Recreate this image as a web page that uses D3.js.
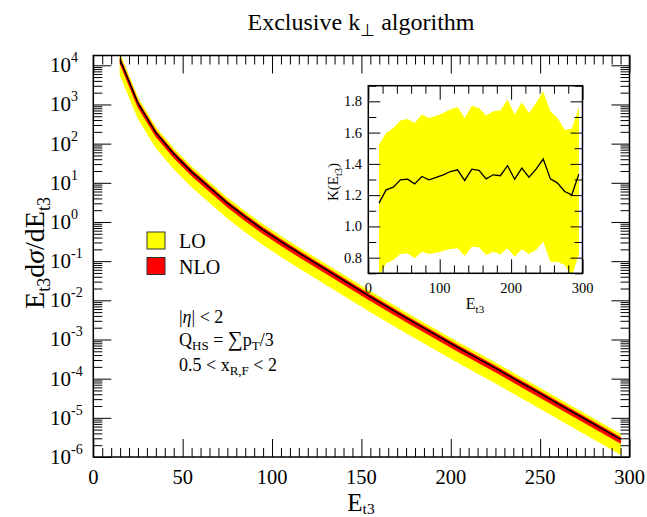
<!DOCTYPE html>
<html><head><meta charset="utf-8">
<script src="https://cdn.jsdelivr.net/npm/d3@7"></script>
<style>
body{margin:0;background:#fff}
svg{display:block}
svg text{font-family:"Liberation Serif","Times New Roman",Times,serif;fill:#000}
</style>
</head><body>
<svg id="c" width="647" height="517" font-family="Liberation Serif, Times New Roman, Times, serif"></svg>
<script>
// ---------- data ----------
const energies = [15,25,35,45,55,65,75,85,95,105,115,125,135,145,155,165,175,185,195,205,215,225,235,245,255,265,275,285,295];
const nloCentral = [13800,1072,190.5,54.95,19.05,7.586,3.020,1.349,0.631,0.316,0.162,0.0851,0.0447,0.0234,0.0123,0.00661,0.00355,0.00195,0.00107,0.000589,0.000331,0.000186,0.000102,5.62e-5,3.09e-5,1.70e-5,9.33e-6,5.13e-6,2.82e-6];
const nloHigh = [15500,1203,213.7,61.7,21.4,8.51,3.39,1.51,0.708,0.355,0.182,0.0955,0.0502,0.0263,0.0138,0.00742,0.00398,0.00219,0.00120,0.000661,0.000371,0.000209,0.000114,6.31e-5,3.47e-5,1.91e-5,1.05e-5,5.76e-6,3.16e-6];
const nloLow = [10960,851,151.3,43.6,15.1,6.03,2.40,1.07,0.501,0.251,0.129,0.0676,0.0355,0.0186,0.00977,0.00525,0.00282,0.00155,0.000850,0.000468,0.000263,0.000148,8.10e-5,4.46e-5,2.45e-5,1.35e-5,7.41e-6,4.07e-6,2.24e-6];
const loHigh = [18600,1446,257,74.1,25.7,10.2,4.07,1.82,0.851,0.426,0.219,0.115,0.0603,0.0316,0.0166,0.00892,0.00479,0.00263,0.00144,0.000795,0.000447,0.000251,0.000138,7.58e-5,4.17e-5,2.29e-5,1.26e-5,6.92e-6,3.80e-6];
const loLow = [5760,447,79.4,22.9,7.94,3.16,1.26,0.562,0.263,0.132,0.0676,0.0355,0.0186,0.00976,0.00513,0.00276,0.00148,0.000813,0.000446,0.000246,0.000138,7.76e-5,4.25e-5,2.34e-5,1.29e-5,7.09e-6,3.89e-6,2.14e-6,1.18e-6];

const kFactor = [1.149,1.234,1.251,1.298,1.302,1.272,1.319,1.298,1.313,1.330,1.351,1.362,1.294,1.366,1.358,1.304,1.330,1.324,1.388,1.302,1.373,1.315,1.366,1.431,1.304,1.277,1.223,1.202,1.336];
const kHigh = [1.522,1.597,1.629,1.678,1.687,1.661,1.715,1.694,1.708,1.725,1.747,1.764,1.694,1.772,1.758,1.710,1.736,1.742,1.811,1.715,1.794,1.725,1.790,1.864,1.736,1.694,1.618,1.623,1.764];
const kLow = [0.68,0.764,0.785,0.824,0.828,0.796,0.838,0.824,0.832,0.845,0.856,0.860,0.811,0.871,0.867,0.817,0.838,0.822,0.860,0.806,0.854,0.824,0.849,0.903,0.774,0.774,0.753,0.68,0.824];

const xMajorTicks = [0,50,100,150,200,250,300];
const yDecades = [-6,-5,-4,-3,-2,-1,0,1,2,3,4];
const insetXMajor = [0,100,200,300];
const insetYMajor = [0.8,1.0,1.2,1.4,1.6,1.8];
const legendItems = [{label:"LO", color:"#ffff00"},{label:"NLO", color:"#ff0000"}];

// ---------- layout ----------
const svg = d3.select("#c");
const M = {l:93.3, r:629.5, t:55.5, b:457};
const x = d3.scaleLinear([0,300],[M.l,M.r]);
const y = d3.scaleLog([1e-6, Math.pow(10,4.25)],[M.b,M.t]);

const defs = svg.append("defs");
defs.append("clipPath").attr("id","mainClip").append("rect")
  .attr("x",M.l).attr("y",M.t).attr("width",M.r-M.l).attr("height",M.b-M.t);

const rows = energies.map((e,i)=>({e, c:nloCentral[i], nh:nloHigh[i], nl:nloLow[i], lh:loHigh[i], ll:loLow[i]}));
const plot = svg.append("g").attr("clip-path","url(#mainClip)");
plot.append("path").datum(rows)
  .attr("d", d3.area().x(d=>x(d.e)).y0(d=>y(d.ll)).y1(d=>y(d.lh)))
  .attr("fill","#ffff00").attr("stroke","#ffff00").attr("stroke-width",1);
plot.append("path").datum(rows)
  .attr("d", d3.area().x(d=>x(d.e)).y0(d=>y(d.nl)).y1(d=>y(d.nh)))
  .attr("fill","#ff0000").attr("stroke","#ff0000").attr("stroke-width",0.8);
plot.append("path").datum(rows)
  .attr("d", d3.line().x(d=>x(d.e)).y(d=>y(d.c)))
  .attr("fill","none").attr("stroke","#000").attr("stroke-width",1.5);

// ---------- axes (ticks inward, all four sides) ----------
function tickAxis(axisFn, scale, values, size, tx, ty){
  const g = svg.append("g").attr("transform",`translate(${tx},${ty})`)
    .call(axisFn(scale).tickValues(values).tickSize(size).tickFormat(""));
  g.select(".domain").remove();
  g.selectAll("line").attr("stroke","#000").attr("stroke-width",1);
  return g;
}
const xMinor = d3.range(0,301,5).filter(v=>v%50!==0);
const yMajorVals = yDecades.map(d=>Math.pow(10,d));
const yMinorVals = [];
yDecades.forEach(d=>{ for(let m=2;m<=9;m++){ const v=m*Math.pow(10,d); if(v<=y.domain()[1]) yMinorVals.push(v);} });

tickAxis(d3.axisBottom, x, xMajorTicks, -18, 0, M.b);
tickAxis(d3.axisBottom, x, xMinor, -9, 0, M.b);
tickAxis(d3.axisTop, x, xMajorTicks, -18, 0, M.t);
tickAxis(d3.axisTop, x, xMinor, -9, 0, M.t);
tickAxis(d3.axisLeft, y, yMajorVals, -18, M.l, 0);
tickAxis(d3.axisLeft, y, yMinorVals, -9, M.l, 0);
tickAxis(d3.axisRight, y, yMajorVals, -18, M.r, 0);
tickAxis(d3.axisRight, y, yMinorVals, -9, M.r, 0);

svg.append("rect").attr("x",M.l).attr("y",M.t).attr("width",M.r-M.l).attr("height",M.b-M.t)
  .attr("fill","none").attr("stroke","#000").attr("stroke-width",1.5);

// tick labels
svg.append("g").selectAll("text").data(xMajorTicks).join("text")
  .attr("x",d=>x(d)).attr("y",484).attr("text-anchor","middle")
  .attr("font-size",20.5).text(d=>d);
const yl = svg.append("g").selectAll("text").data(yDecades).join("text")
  .attr("x",50).attr("y",d=>y(Math.pow(10,d))+7).attr("font-size",21);
yl.append("tspan").text("10");
yl.append("tspan").attr("dy",-10).attr("font-size",14).text(d=>String(d));

// axis titles
const xt = svg.append("text").attr("x",361).attr("y",511).attr("text-anchor","middle").attr("font-size",25);
xt.append("tspan").text("E");
xt.append("tspan").attr("dy",2.5).attr("font-size",15.5).text("t3");

const ytitle = svg.append("text").attr("transform","translate(44,253) rotate(-90)")
  .attr("text-anchor","middle").attr("font-size",28);
ytitle.append("tspan").text("E");
ytitle.append("tspan").attr("dy",6).attr("font-size",18).text("t3");
ytitle.append("tspan").attr("dy",-6).text("d");
ytitle.append("tspan").attr("font-style","italic").text("σ");
ytitle.append("tspan").text("/dE");
ytitle.append("tspan").attr("dy",6).attr("font-size",18).text("t3");

// title
const title = svg.append("text").attr("x",361).attr("y",30).attr("text-anchor","middle").attr("font-size",24);
title.append("tspan").text("Exclusive k");
title.append("tspan").attr("dy",6).attr("font-size",17).text("⊥");
title.append("tspan").attr("dy",-6).text(" algorithm");

// legend
const lg = svg.append("g");
legendItems.forEach((it,i)=>{
  const yy = 232 + i*25.5;
  lg.append("rect").attr("x",147).attr("y",yy).attr("width",18).attr("height",17)
    .attr("fill",it.color).attr("stroke","#333").attr("stroke-width",1);
  lg.append("text").attr("x",179).attr("y",yy+16).attr("font-size",20).text(it.label);
});

// annotations
const a1 = svg.append("text").attr("x",179).attr("y",323).attr("font-size",18);
a1.append("tspan").text("|");
a1.append("tspan").attr("font-style","italic").text("η");
a1.append("tspan").text("| < 2");
const a2 = svg.append("text").attr("x",179).attr("y",346).attr("font-size",18);
a2.append("tspan").text("Q");
a2.append("tspan").attr("dy",4).attr("font-size",13).text("HS");
a2.append("tspan").attr("dy",-4).text(" = ");
a2.append("tspan").attr("font-size",21).text("∑");
a2.append("tspan").text("p");
a2.append("tspan").attr("dy",4).attr("font-size",13).text("T");
a2.append("tspan").attr("dy",-4).text("/3");
const a3 = svg.append("text").attr("x",179).attr("y",371).attr("font-size",18);
a3.append("tspan").text("0.5 < x");
a3.append("tspan").attr("dy",4).attr("font-size",13).text("R,F");
a3.append("tspan").attr("dy",-4).text(" < 2");

// ---------- inset ----------
const I = {l:368.3, r:582.5, t:85.7, b:273.3};
const ix = d3.scaleLinear([0,300],[I.l,I.r]);
const iy = d3.scaleLinear([0.7,1.9],[I.b,I.t]);
svg.append("rect").attr("x",I.l).attr("y",I.t).attr("width",I.r-I.l).attr("height",I.b-I.t).attr("fill","#fff");
defs.append("clipPath").attr("id","insetClip").append("rect")
  .attr("x",I.l).attr("y",I.t).attr("width",I.r-I.l).attr("height",I.b-I.t);
const krows = energies.map((e,i)=>({e,k:kFactor[i],h:kHigh[i],l:kLow[i]}));
const ip = svg.append("g").attr("clip-path","url(#insetClip)");
ip.append("path").datum(krows)
  .attr("d", d3.area().x(d=>ix(d.e)).y0(d=>iy(d.l)).y1(d=>iy(d.h)))
  .attr("fill","#ffff00");
ip.append("path").datum(krows)
  .attr("d", d3.line().x(d=>ix(d.e)).y(d=>iy(d.k)))
  .attr("fill","none").attr("stroke","#000").attr("stroke-width",1.3);

const ixMinor = d3.range(0,301,20).filter(v=>v%100!==0);
const iyMinor = [0.7,0.9,1.1,1.3,1.5,1.7,1.9];
tickAxis(d3.axisBottom, ix, insetXMajor, -14, 0, I.b);
tickAxis(d3.axisBottom, ix, ixMinor, -8, 0, I.b);
tickAxis(d3.axisTop, ix, insetXMajor, -14, 0, I.t);
tickAxis(d3.axisTop, ix, ixMinor, -8, 0, I.t);
tickAxis(d3.axisLeft, iy, insetYMajor, -12, I.l, 0);
tickAxis(d3.axisLeft, iy, iyMinor, -8, I.l, 0);
tickAxis(d3.axisRight, iy, insetYMajor, -12, I.r, 0);
tickAxis(d3.axisRight, iy, iyMinor, -8, I.r, 0);
svg.append("rect").attr("x",I.l).attr("y",I.t).attr("width",I.r-I.l).attr("height",I.b-I.t)
  .attr("fill","none").attr("stroke","#000").attr("stroke-width",1.5);

svg.append("g").selectAll("text").data(insetXMajor).join("text")
  .attr("x",d=>ix(d)).attr("y",293).attr("text-anchor","middle").attr("font-size",14.5).text(d=>d);
svg.append("g").selectAll("text").data(insetYMajor).join("text")
  .attr("x",362).attr("y",d=>iy(d)+5).attr("text-anchor","end").attr("font-size",14.5).text(d=>d.toFixed(1));
const ixt = svg.append("text").attr("x",475).attr("y",309).attr("text-anchor","middle").attr("font-size",16);
ixt.append("tspan").text("E");
ixt.append("tspan").attr("dy",4).attr("font-size",11).text("t3");
const iyt = svg.append("text").attr("transform","translate(338,182) rotate(-90)").attr("text-anchor","middle").attr("font-size",15);
iyt.append("tspan").text("K(E");
iyt.append("tspan").attr("dy",4).attr("font-size",10.5).text("t3");
iyt.append("tspan").attr("dy",-4).text(")");
</script>
</body></html>
